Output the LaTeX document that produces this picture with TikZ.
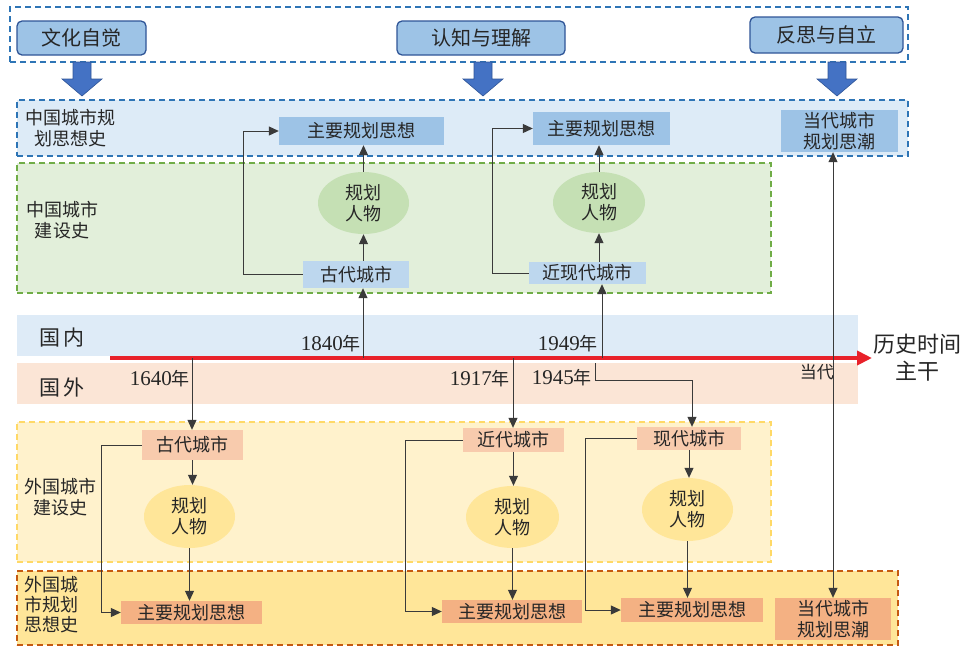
\documentclass[tikz,border=0pt]{standalone}
\usepackage{fontspec}
\setmainfont{Liberation Serif}
\newfontfamily\cjk{Noto Sans CJK SC}
\usetikzlibrary{arrows.meta,shapes.geometric}
\definecolor{txt}{HTML}{262626}
\definecolor{dashblue}{HTML}{2E75B6}
\definecolor{btnfill}{HTML}{9DC3E6}
\definecolor{btndraw}{HTML}{2F5597}
\definecolor{arrowblue}{HTML}{4472C4}
\definecolor{paleblue}{HTML}{DDEBF7}
\definecolor{midblue}{HTML}{9DC3E6}
\definecolor{lightblue}{HTML}{BDD7EE}
\definecolor{greenfill}{HTML}{E2EFDA}
\definecolor{greendraw}{HTML}{70AD47}
\definecolor{greenell}{HTML}{C5E0B4}
\definecolor{bandblue}{HTML}{DEEBF7}
\definecolor{bandpink}{HTML}{FBE5D6}
\definecolor{redline}{HTML}{E8212A}
\definecolor{yelfill}{HTML}{FFF2CC}
\definecolor{yeldraw}{HTML}{FFD966}
\definecolor{yelell}{HTML}{FFE699}
\definecolor{orgfill}{HTML}{FFE699}
\definecolor{orgdraw}{HTML}{C55A11}
\definecolor{peach}{HTML}{F8CBAD}
\definecolor{salmon}{HTML}{F4B183}
\definecolor{conn}{HTML}{3A3A3A}
\newcommand{\nian}{{\cjk\fontsize{18}{18}\selectfont 年}}
\begin{document}
\begin{tikzpicture}[x=1pt,y=-1pt,
  container/.style={rectangle, inner sep=0pt, dash pattern=on 6pt off 4pt, line width=1.5pt},
  btn/.style={rectangle, rounded corners=5pt, fill=btnfill, draw=btndraw, line width=1.3pt, inner sep=0pt, text=txt, font=\cjk\fontsize{20}{22}\selectfont},
  cbox/.style={rectangle, inner sep=0pt, align=center, text=txt, font=\cjk\fontsize{18}{21}\selectfont},
  pers/.style={ellipse, inner sep=0pt, align=center, text=txt, font=\cjk\fontsize{18}{21}\selectfont},
  lbl/.style={inner sep=0pt, align=center, text=txt, font=\cjk\fontsize{18}{21}\selectfont},
  biglbl/.style={inner sep=0pt, align=center, text=txt, font=\cjk\fontsize{21}{27}\selectfont},
  yearlbl/.style={inner sep=0pt, text=txt, font=\fontsize{21}{21}\selectfont},
  arr/.style={draw=conn, line width=1pt, -{Triangle[length=10pt,width=9pt]}},
  line/.style={draw=conn, line width=1pt}
]
\useasboundingbox (0,0) rectangle (968,646);

% ---------- top row ----------
\node[container, draw=dashblue, minimum width=898pt, minimum height=55pt] (topbox) at (459,34.5) {};
\node[btn, minimum width=129pt, minimum height=34pt] (b1) at (81.5,38) {文化自觉};
\node[btn, minimum width=168pt, minimum height=34pt] (b2) at (481,38) {认知与理解};
\node[btn, minimum width=153pt, minimum height=36pt] (b3) at (826.5,35) {反思与自立};
\foreach \x in {82,483,837}
  \filldraw[fill=arrowblue, draw=btndraw, line width=0.6pt]
    (\x-9,62) -- (\x+9,62) -- (\x+9,79) -- (\x+20,79) -- (\x,96) -- (\x-20,79) -- (\x-9,79) -- cycle;

% ---------- Chinese planning thought ----------
\node[container, draw=dashblue, fill=paleblue, minimum width=891pt, minimum height=56pt] (cnthink) at (462.5,128) {};
\node[lbl] (cnthinklbl) at (70,128) {中国城市规\\划思想史};
\node[cbox, fill=midblue, minimum width=165pt, minimum height=28pt] (cm1) at (361.5,131) {主要规划思想};
\node[cbox, fill=midblue, minimum width=137pt, minimum height=33pt] (cm2) at (601.5,128.5) {主要规划思想};
\node[cbox, fill=midblue, minimum width=117pt, minimum height=42pt] (cmod) at (839.5,131) {当代城市\\规划思潮};

% ---------- Chinese construction ----------
\node[container, draw=greendraw, fill=greenfill, minimum width=754pt, minimum height=130pt] (cnbuild) at (394,228) {};
\node[lbl] (cnbuildlbl) at (62,220) {中国城市\\建设史};
\node[pers, fill=greenell, minimum width=91pt, minimum height=62pt] (ce1) at (363.5,203) {规划\\人物};
\node[pers, fill=greenell, minimum width=92pt, minimum height=61pt] (ce2) at (599,202.5) {规划\\人物};
\node[cbox, fill=lightblue, minimum width=106pt, minimum height=27pt] (cc1) at (356,274.5) {古代城市};
\node[cbox, fill=lightblue, minimum width=117pt, minimum height=22pt] (cc2) at (587.5,273) {近现代城市};

% ---------- timeline bands ----------
\node[rectangle, inner sep=0pt, fill=bandblue, minimum width=841pt, minimum height=41pt] (domestic) at (437.5,335.5) {};
\node[rectangle, inner sep=0pt, fill=bandpink, minimum width=841pt, minimum height=41pt] (foreign) at (437.5,383.5) {};
\node[biglbl] (dlbl) at (62,338) {国\hspace{4pt}内};
\node[biglbl] (flbl) at (62,388) {国\hspace{4pt}外};
\coordinate (tl0) at (110,358);
\coordinate (tl1) at (872,358);
\draw[redline, line width=4.5pt, -{Triangle[length=15pt,width=14pt]}] (tl0) -- (tl1);
\node[biglbl, font=\cjk\fontsize{22}{27}\selectfont] (mainlbl) at (917,358) {历史时间\\主干};

\node[yearlbl, anchor=base east] (y1840) at (361,350) {1840\nian};
\node[yearlbl, anchor=base east] (y1949) at (598,350) {1949\nian};
\node[yearlbl, anchor=base east] (y1640) at (190,385) {1640\nian};
\node[yearlbl, anchor=base east] (y1917) at (510,385) {1917\nian};
\node[yearlbl, anchor=base east] (y1945) at (592,384) {1945\nian};
\node[lbl, font=\cjk\fontsize{17}{20}\selectfont, anchor=east] (ddlbl) at (834,372.5) {当代};

\coordinate (t1840) at (363,358);
\coordinate (t1949) at (602,358);
\coordinate (t1640) at (192,358);
\coordinate (t1917) at (513,358);
\coordinate (t1945) at (595,363);
\coordinate (t1945b) at (595,380);
\coordinate (t1945c) at (692,380);

% ---------- foreign construction ----------
\node[container, draw=yeldraw, fill=yelfill, minimum width=754pt, minimum height=140pt] (fobuild) at (394,492) {};
\node[lbl] (fobuildlbl) at (60,497) {外国城市\\建设史};
\node[cbox, fill=peach, minimum width=101pt, minimum height=30pt] (fc1) at (192.5,445) {古代城市};
\node[cbox, fill=peach, minimum width=101pt, minimum height=24pt] (fc2) at (513.5,440) {近代城市};
\node[cbox, fill=peach, minimum width=104pt, minimum height=23pt] (fc3) at (689,438.5) {现代城市};
\node[pers, fill=yelell, minimum width=91pt, minimum height=63pt] (fe1) at (189.5,516.5) {规划\\人物};
\node[pers, fill=yelell, minimum width=93pt, minimum height=62pt] (fe2) at (512.5,517) {规划\\人物};
\node[pers, fill=yelell, minimum width=91pt, minimum height=63pt] (fe3) at (687.5,509.5) {规划\\人物};

% ---------- foreign planning thought ----------
\node[container, draw=orgdraw, fill=orgfill, minimum width=881pt, minimum height=74pt] (fothink) at (457.5,608) {};
\node[lbl, font=\cjk\fontsize{18}{20}\selectfont] (fothinklbl) at (51,605) {外国城\\市规划\\思想史};
\node[cbox, fill=salmon, minimum width=141pt, minimum height=23pt] (fm1) at (191.5,612.5) {主要规划思想};
\node[cbox, fill=salmon, minimum width=140pt, minimum height=23pt] (fm2) at (512,611.5) {主要规划思想};
\node[cbox, fill=salmon, minimum width=142pt, minimum height=24pt] (fm3) at (692,610) {主要规划思想};
\node[cbox, fill=salmon, minimum width=116pt, minimum height=42pt] (fmod) at (833,619) {当代城市\\规划思潮};

% ---------- connectors: China ----------
\draw[arr] (t1840) -- (t1840 |- cc1.south);
\draw[arr] (cc1.north -| ce1.south) -- (ce1.south);
\draw[arr] (ce1.north) -- (ce1.north |- cm1.south);
\draw[arr] (cc1.west) -- ++(-59,0) |- (cm1.west);
\draw[arr] (t1949) -- (t1949 |- cc2.south);
\draw[arr] (cc2.north -| ce2.south) -- (ce2.south);
\draw[arr] (ce2.north) -- (ce2.north |- cm2.south);
\draw[arr] (cc2.west) -- ++(-36,0) |- (cm2.west);
\draw[arr, {Triangle[length=10pt,width=9pt]}-{Triangle[length=10pt,width=9pt]}] (cmod.south -| fmod.north) -- (fmod.north);

% ---------- connectors: foreign ----------
\draw[arr] (t1640) -- (t1640 |- fc1.north);
\draw[arr] (fc1.south) -- (fc1.south |- fe1.north);
\draw[arr] (fe1.south) -- (fe1.south |- fm1.north);
\draw[arr] (fc1.west) -- ++(-40,0) |- (fm1.west);
\draw[arr] (t1917) -- (t1917 |- fc2.north);
\draw[arr] (fc2.south) -- (fc2.south |- fe2.north);
\draw[arr] (fe2.south) -- (fe2.south |- fm2.north);
\draw[arr] (fc2.west) -- ++(-57,0) |- (fm2.west);
\draw[arr] (t1945) -- (t1945b) -- (t1945c) -- (t1945c |- fc3.north);
\draw[arr] (fc3.south) -- (fc3.south |- fe3.north);
\draw[arr] (fe3.south) -- (fe3.south |- fm3.north);
\draw[arr] (fc3.west) -- ++(-51,0) |- (fm3.west);
\end{tikzpicture}
\end{document}
